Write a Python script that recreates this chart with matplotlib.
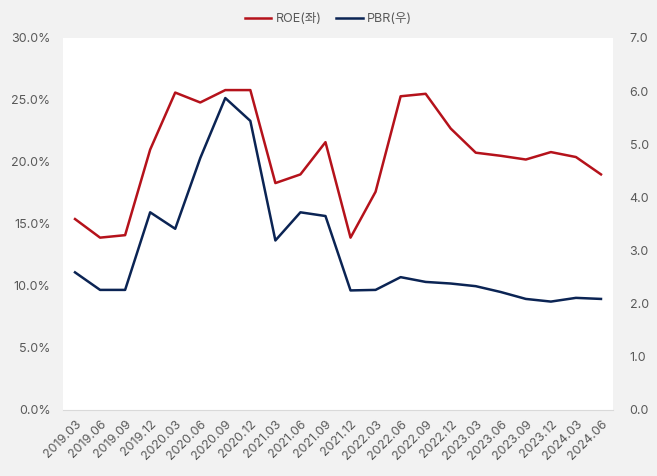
import numpy as np
import matplotlib.pyplot as plt
from matplotlib.ticker import FuncFormatter

plt.rcParams['font.family'] = ['Inter', 'Noto Sans CJK KR', 'DejaVu Sans']

# quarters
periods = ['2019.03', '2019.06', '2019.09', '2019.12', '2020.03', '2020.06',
           '2020.09', '2020.12', '2021.03', '2021.06', '2021.09', '2021.12',
           '2022.03', '2022.06', '2022.09', '2022.12', '2023.03', '2023.06',
           '2023.09', '2023.12', '2024.03', '2024.06']

# ROE (%), left axis
roe = [15.4, 13.9, 14.1, 21.0, 25.6, 24.8, 25.8, 25.8, 18.3, 19.0, 21.6,
       13.9, 17.6, 25.3, 25.5, 22.7, 20.75, 20.5, 20.2, 20.8, 20.4, 19.0]

# PBR (x), right axis
pbr = [2.59, 2.26, 2.26, 3.72, 3.41, 4.74, 5.87, 5.44, 3.19, 3.72, 3.65,
       2.25, 2.26, 2.50, 2.41, 2.38, 2.33, 2.22, 2.09, 2.04, 2.11, 2.09]

RED = '#b5121b'
NAVY = '#0b2454'
GRAY = '#595959'

fig = plt.figure(figsize=(6.57, 4.76), dpi=100, facecolor='#f2f2f2')
ax = fig.add_axes([63/657, 66/476, 550/657, 372/476])
ax.set_facecolor('white')
ax2 = ax.twinx()

x = np.arange(len(periods))
l1, = ax.plot(x, roe, color=RED, lw=1.8, label='ROE(좌)')
l2, = ax2.plot(x, pbr, color=NAVY, lw=1.8, label='PBR(우)')

ax.set_xlim(-0.48, len(periods) - 1 + 0.48)
ax.set_ylim(0, 30)
ax2.set_ylim(0, 7)
ax.set_yticks(np.arange(0, 30.1, 5))
ax2.set_yticks(np.arange(0, 7.1, 1))
ax.yaxis.set_major_formatter(FuncFormatter(lambda v, p: f'{v:.1f}%'))
ax2.yaxis.set_major_formatter(FuncFormatter(lambda v, p: f'{v:.1f}'))

ax.set_xticks(x)
ax.set_xticklabels(periods, rotation=45, ha='right', rotation_mode='anchor')

for a in (ax, ax2):
    for s in a.spines.values():
        s.set_visible(False)
    a.tick_params(length=0, colors=GRAY, labelsize=9)
ax2.spines['bottom'].set_visible(True)
ax2.spines['bottom'].set_color('#d9d9d9')
ax.tick_params(axis='y', pad=9)
ax2.tick_params(axis='y', pad=12)
ax.tick_params(axis='x', pad=6)

fig.legend(handles=[l1, l2], loc='center', bbox_to_anchor=(0.5, 1 - 19/476),
           ncol=2, frameon=False, fontsize=9, handlelength=2.1,
           handletextpad=0.32, columnspacing=1.2, labelcolor=GRAY)

fig.savefig('out.png', dpi=100, facecolor=fig.get_facecolor())
